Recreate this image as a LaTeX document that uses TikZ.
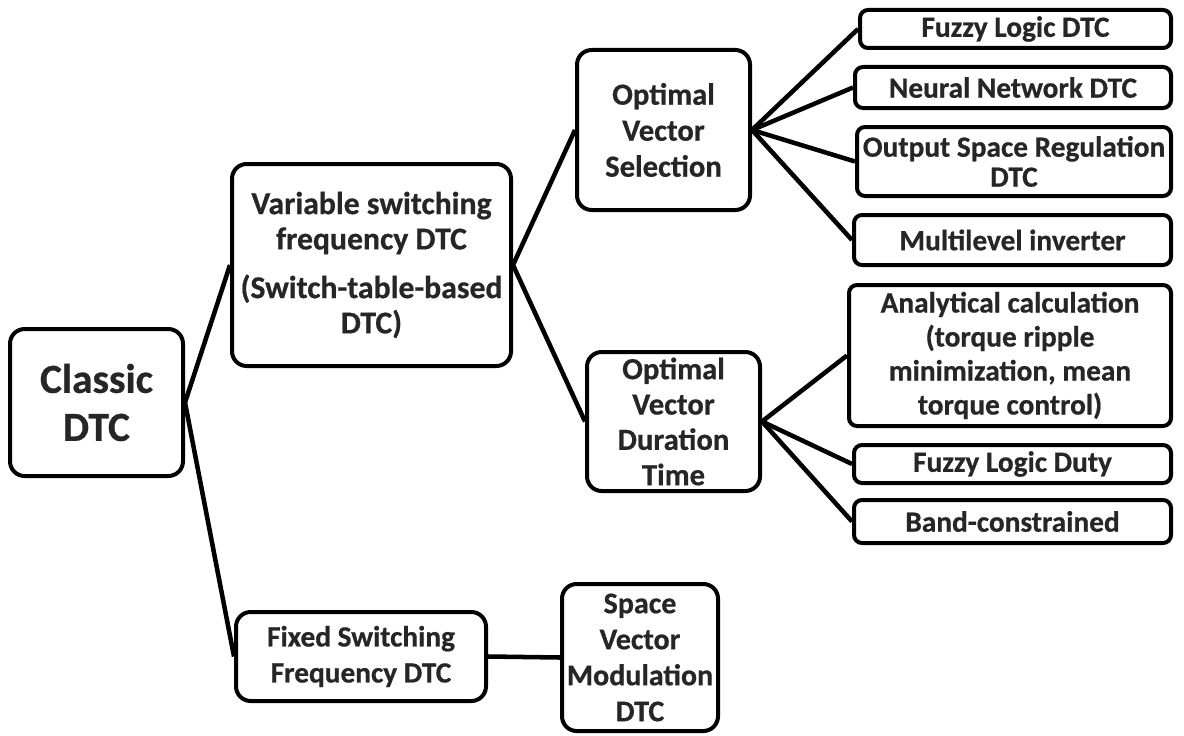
\documentclass[tikz,border=0pt]{standalone}
\usepackage{fontspec}
\setmainfont{Carlito}[BoldFeatures={FakeBold=0.6}]
\definecolor{txt}{HTML}{262626}
\tikzset{
  box/.style={draw=black, line width=3pt, rounded corners=11pt, fill=white, align=center, inner sep=0pt, text=txt, font=\bfseries},
  sbox/.style={box, rounded corners=6pt},
  link/.style={draw=black, line width=3.4pt},
  midf/.style={font=\bfseries\fontsize{22.5}{27}\selectfont},
  rf/.style={font=\bfseries\fontsize{22}{25.5}\selectfont}
}
\begin{document}
\begin{tikzpicture}[x=0.75pt,y=-0.75pt]
\useasboundingbox (0,0) rectangle (1184,735);
\node[box, font=\bfseries\fontsize{31}{36}\selectfont, minimum width=129.75pt, minimum height=110.25pt] (classic) at (96.5,402.5) {Classic\\DTC};
\node[box, font=\bfseries\fontsize{23.8}{26.5}\selectfont, minimum width=209.25pt, minimum height=151.5pt] (var) at (371.5,265) {Variable switching\\frequency DTC\\[10pt](Switch-table-based\\DTC)};
\node[box, midf, font=\bfseries\fontsize{23}{27}\selectfont, minimum width=129.75pt, minimum height=120pt] (ovs) at (663.5,130) {Optimal\\Vector\\Selection};
\node[box, midf, font=\bfseries\fontsize{23}{26.5}\selectfont, minimum width=129.75pt, minimum height=104.25pt] (ovdt) at (673.5,421.5) {Optimal\\Vector\\Duration\\Time};
\node[box, font=\bfseries\fontsize{22}{27}\selectfont, minimum width=187.5pt, minimum height=66.75pt] (fixed) at (361,656.5) {Fixed Switching\\Frequency DTC};
\node[box, midf, minimum width=117pt, minimum height=110.25pt] (svm) at (640,657.5) {Space\\Vector\\Modulation\\DTC};
\node[sbox, rf, minimum width=233.25pt, minimum height=28.5pt] (fl) at (1015.5,29) {Fuzzy Logic DTC};
\node[sbox, rf, minimum width=237pt, minimum height=30.75pt] (nn) at (1013,87.5) {Neural Network DTC};
\node[sbox, font=\bfseries\fontsize{22}{22.5}\selectfont, minimum width=235.5pt, minimum height=51.75pt] (osr) at (1014,161.5) {Output Space Regulation\\DTC};
\node[sbox, rf, minimum width=237.75pt, minimum height=37.5pt] (ml) at (1012.5,240) {Multilevel inverter};
\node[sbox, rf, minimum width=241.5pt, minimum height=105.75pt] (ac) at (1010,355.5) {Analytical calculation\\(torque ripple\\minimization, mean\\torque control)};
\node[sbox, rf, minimum width=237.75pt, minimum height=28.5pt] (fld) at (1012.5,464) {Fuzzy Logic Duty};
\node[sbox, rf, minimum width=237.75pt, minimum height=32.25pt] (bc) at (1012.5,521.5) {Band-constrained};
\draw[link] (classic.east) -- (var.west);
\draw[link] (classic.east) -- (fixed.west);
\draw[link] (var.east) -- (ovs.west);
\draw[link] (var.east) -- (ovdt.west);
\draw[link] (ovs.east) -- (fl.west);
\draw[link] (ovs.east) -- (nn.west);
\draw[link] (ovs.east) -- (osr.west);
\draw[link] (ovs.east) -- (ml.west);
\draw[link] (ovdt.east) -- (ac.west);
\draw[link] (ovdt.east) -- (fld.west);
\draw[link] (ovdt.east) -- (bc.west);
\draw[link] (fixed.east) -- (svm.west);
\end{tikzpicture}
\end{document}
